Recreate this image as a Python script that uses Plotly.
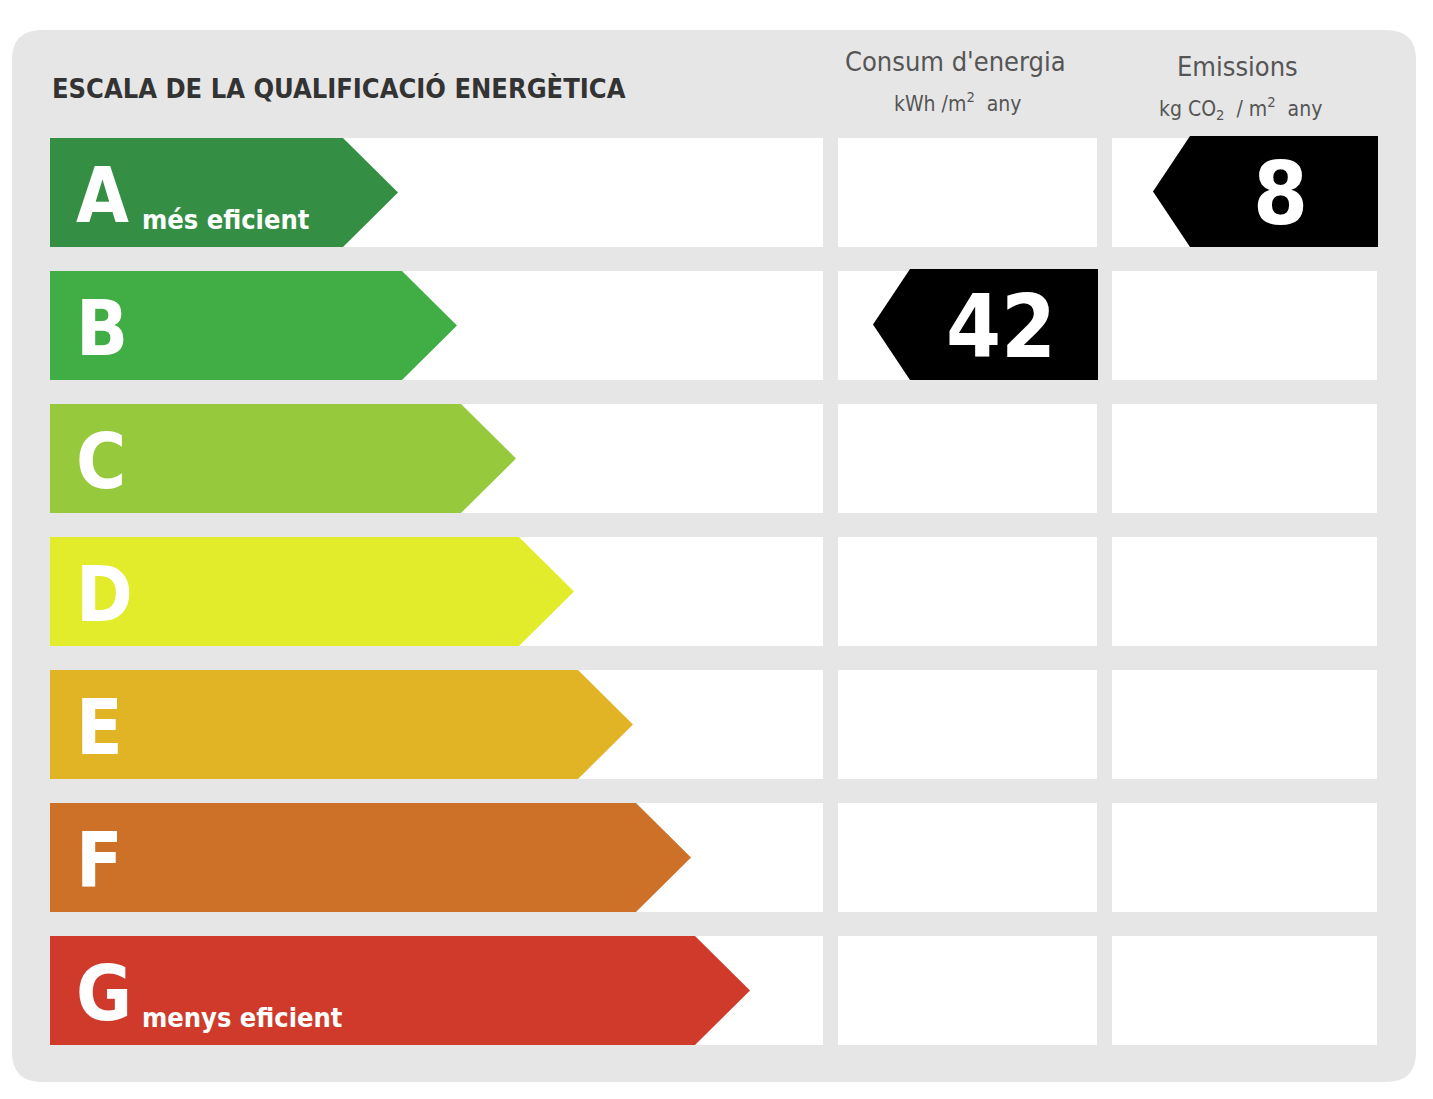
import plotly.graph_objects as go

categories = ["A", "B", "C", "D", "E", "F", "G"]
colors = ["#348f45", "#41ad45", "#96c93c", "#e2ec2b", "#e0b425", "#cd7128", "#d03a2a"]
arrow_tips = [398, 457, 516, 574, 633, 691, 750]
subtitles = {"A": "més eficient", "G": "menys eficient"}
consum_class, consum_value = "B", 42
emis_class, emis_value = "A", 8

W, H = 1433, 1099
OFF = 8
ROW0, PITCH, RH = 138, 133, 109
COND = "DejaVu Sans Condensed"
fig = go.Figure()
shapes = []
shapes.append(dict(type="path", path="M 42 30 L 1386 30 Q 1416 30 1416 60 L 1416 1052 Q 1416 1082 1386 1082 L 42 1082 Q 12 1082 12 1052 L 12 60 Q 12 30 42 30 Z",
                   fillcolor="#e6e6e6", line_width=0, layer="below"))
cols = [(50, 823), (838, 1097), (1112, 1377)]
for i, c in enumerate(categories):
    y0 = ROW0 + i * PITCH
    for x0, x1 in cols:
        shapes.append(dict(type="rect", x0=x0, x1=x1, y0=y0, y1=y0 + RH, fillcolor="white", line_width=0, layer="below"))
    tip = arrow_tips[i]
    ym = y0 + RH / 2
    fig.add_trace(go.Scatter(x=[50, tip - 55, tip, tip - 55, 50, 50], y=[y0, y0, ym, y0 + RH, y0 + RH, y0],
                             fill="toself", fillcolor=colors[i], line=dict(width=0, color=colors[i]),
                             mode="lines", hoverinfo="skip", showlegend=False))
    fig.add_annotation(x=74, y=ym + 3, text=c, showarrow=False, xanchor="left", yanchor="middle",
                       font=dict(family=COND, size=76, color="white", weight="bold"))
    if c in subtitles:
        fig.add_annotation(x=140, y=ym + 27, text=subtitles[c], showarrow=False, xanchor="left", yanchor="middle",
                           font=dict(family=COND, size=27, color="white", weight="bold"))

def marker(cls, val, x0, x1):
    i = categories.index(cls)
    y0 = ROW0 + i * PITCH - 2
    ym = y0 + (RH + 2) / 2
    fig.add_trace(go.Scatter(x=[x0 + 37, x1, x1, x0 + 37, x0, x0 + 37], y=[y0, y0, y0 + RH + 2, y0 + RH + 2, ym, y0],
                             fill="toself", fillcolor="black", line=dict(width=0, color="black"),
                             mode="lines", hoverinfo="skip", showlegend=False))
    fig.add_annotation(x=(x0 + 30 + x1) / 2, y=ym + 2, text=str(val), showarrow=False,
                       font=dict(family=COND, size=88, color="white", weight="bold"))

marker(consum_class, consum_value, 873, 1098)
marker(emis_class, emis_value, 1153, 1378)

fig.add_annotation(x=50, y=88, text="ESCALA DE LA QUALIFICACIÓ ENERGÈTICA", showarrow=False, xanchor="left",
                   font=dict(family=COND, size=27, color="#333333", weight="bold"))
fig.add_annotation(x=955, y=61, text="Consum d'energia", showarrow=False,
                   font=dict(family=COND, size=27, color="#555555"))
fig.add_annotation(x=958, y=102, text="kWh /m<sup>2</sup>  any", showarrow=False,
                   font=dict(family=COND, size=21, color="#555555"))
fig.add_annotation(x=1237, y=66, text="Emissions", showarrow=False,
                   font=dict(family=COND, size=27, color="#555555"))
fig.add_annotation(x=1240, y=108, text="kg CO<sub>2</sub>  / m<sup>2</sup>  any", showarrow=False,
                   font=dict(family=COND, size=21, color="#555555"))

fig.update_layout(width=W, height=H, margin=dict(l=0, r=0, t=0, b=0), plot_bgcolor="white", paper_bgcolor="white",
                  shapes=shapes,
                  xaxis=dict(range=[OFF, W + OFF], visible=False, fixedrange=True),
                  yaxis=dict(range=[H + OFF, OFF], visible=False, fixedrange=True))
fig.write_html("out.html")
